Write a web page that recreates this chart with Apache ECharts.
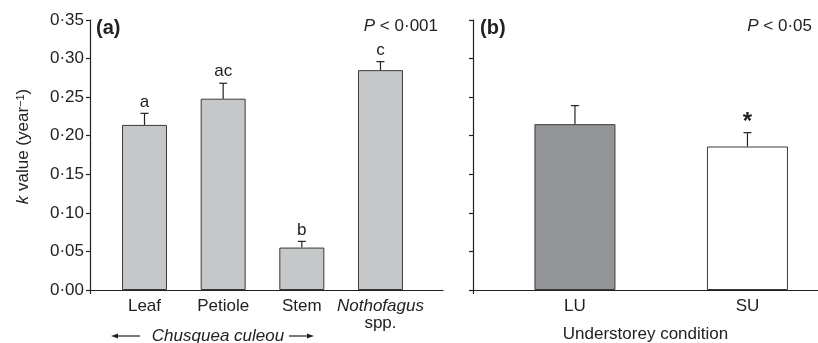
<!DOCTYPE html>
<html><head><meta charset="utf-8">
<script src="https://cdn.jsdelivr.net/npm/echarts@6/dist/echarts.min.js"></script>
<style>html,body{margin:0;padding:0;background:#fff}#c{width:818px;height:343px}</style>
</head><body><div id="c"></div>
<script>
// ---- data ----
const partCategories = ['Leaf', 'Petiole', 'Stem', 'Nothofagus spp.'];
const partK = [0.214, 0.248, 0.055, 0.285];
const partErr = [0.015, 0.020, 0.008, 0.011];
const partLetters = ['a', 'ac', 'b', 'c'];
const condCategories = ['LU', 'SU'];
const condK = [0.215, 0.186];
const condErr = [0.024, 0.018];
const condMarks = ['', '*'];
const yMin = 0, yMax = 0.35, yStep = 0.05;
const panelTags = ['(a)', '(b)'];
const pTexts = ['< 0·001', '< 0·05'];
const xTitleB = 'Understorey condition';
const groupTitleA = 'Chusquea culeou';

const FONT = '"Liberation Sans", Arial, Helvetica, sans-serif';
const INK = '#222';

const chart = echarts.init(document.getElementById('c'));

function catLabel(name) {
  const m = name.match(/^(\S+) spp\.$/);
  return m ? '{it|' + m[1] + '}\nspp.' : name;
}

function errItem(labels, capHalf, labelFont, gap) {
  return function (params, api) {
    const x = api.value(0), v = api.value(1), hi = api.value(2);
    const p0 = api.coord([x, v]), p1 = api.coord([x, hi]);
    const ch = [
      { type: 'line', shape: { x1: p0[0], y1: p0[1], x2: p1[0], y2: p1[1] }, style: { stroke: INK, lineWidth: 1.2 } },
      { type: 'line', shape: { x1: p1[0] - capHalf, y1: p1[1], x2: p1[0] + capHalf, y2: p1[1] }, style: { stroke: INK, lineWidth: 1.2 } }
    ];
    const t = labels[params.dataIndex];
    if (t) ch.push({ type: 'text', style: { text: t, x: p1[0], y: p1[1] - gap, textAlign: 'center', textVerticalAlign: 'bottom', font: labelFont, fill: INK } });
    return { type: 'group', children: ch };
  };
}

const yAxisCommon = {
  type: 'value', min: yMin, max: yMax, interval: yStep,
  axisLine: { show: true, onZero: false, lineStyle: { color: INK, width: 1.2 } },
  axisTick: { show: true, length: 4, lineStyle: { color: INK, width: 1.2 } },
  splitLine: { show: false }
};

const aMin = -0.693, aMax = 3.795;
const bMin = -0.591, bMax = 1.409;

const option = {
  animation: false,
  backgroundColor: '#fff',
  textStyle: { fontFamily: FONT },
  grid: [
    { left: 90, right: 375, top: 20, bottom: 53, containLabel: false, outerBoundsMode: 'none' },
    { left: 473, right: 0, top: 20, bottom: 53, containLabel: false, outerBoundsMode: 'none' }
  ],
  xAxis: [
    {
      type: 'value', gridIndex: 0, min: aMin, max: aMax,
      axisLine: { show: true, onZero: false, lineStyle: { color: INK, width: 1.2 } },
      axisTick: { show: true, customValues: [aMin], length: 4, lineStyle: { color: INK, width: 1.2 } },
      splitLine: { show: false },
      axisLabel: {
        customValues: partCategories.map((_, i) => i),
        formatter: v => catLabel(partCategories[Math.round(v)]),
        color: INK, fontSize: 17, margin: 8, lineHeight: 17, fontFamily: FONT,
        rich: { it: { fontStyle: 'italic', fontSize: 17, lineHeight: 17, color: INK, fontFamily: FONT } }
      }
    },
    {
      type: 'value', gridIndex: 1, min: bMin, max: bMax,
      axisLine: { show: true, onZero: false, lineStyle: { color: INK, width: 1.2 } },
      axisTick: { show: true, customValues: [bMin], length: 4, lineStyle: { color: INK, width: 1.2 } },
      splitLine: { show: false },
      axisLabel: {
        customValues: condCategories.map((_, i) => i),
        formatter: v => condCategories[Math.round(v)],
        color: INK, fontSize: 17, margin: 8, fontFamily: FONT
      },
      name: xTitleB, nameLocation: 'middle', nameGap: 36,
      nameTextStyle: { color: INK, fontSize: 17, fontFamily: FONT }
    }
  ],
  yAxis: [
    Object.assign({}, yAxisCommon, {
      gridIndex: 0,
      axisLabel: { formatter: v => v.toFixed(2).replace('.', '·'), color: INK, fontSize: 17, margin: 6, fontFamily: FONT },
      name: '{it|k} value (year{sup|−1})', nameLocation: 'middle', nameRotate: 90, nameGap: 58,
      nameTextStyle: {
        color: INK, fontSize: 17, fontFamily: FONT, padding: [0, 0, 0, 17],
        rich: { it: { fontStyle: 'italic', fontSize: 17, color: INK, fontFamily: FONT },
                sup: { fontSize: 11, verticalAlign: 'top', color: INK, fontFamily: FONT, padding: [0, 0, 6, 0] } }
      }
    }),
    Object.assign({}, yAxisCommon, { gridIndex: 1, axisLabel: { show: false } })
  ],
  series: [
    {
      type: 'bar', xAxisIndex: 0, yAxisIndex: 0, barWidth: 45,
      itemStyle: { color: '#c6c7c9', borderColor: '#3a3a3a', borderWidth: 1 },
      data: partK.map((v, i) => [i, v])
    },
    {
      type: 'custom', xAxisIndex: 0, yAxisIndex: 0,
      renderItem: errItem(partLetters, 4, '17px ' + FONT, 3),
      data: partK.map((v, i) => [i, v, v + partErr[i]]), z: 5
    },
    {
      type: 'bar', xAxisIndex: 1, yAxisIndex: 1, barWidth: 81,
      itemStyle: { borderColor: '#3a3a3a', borderWidth: 1 },
      data: condK.map((v, i) => ({ value: [i, v], itemStyle: { color: i === 0 ? '#939497' : '#ffffff' } }))
    },
    {
      type: 'custom', xAxisIndex: 1, yAxisIndex: 1,
      renderItem: errItem(condMarks, 4, 'bold 24px ' + FONT, -2),
      data: condK.map((v, i) => [i, v, v + condErr[i]]), z: 5
    }
  ],
  graphic: [
    { type: 'text', left: 96, top: 18, style: { text: panelTags[0], font: 'bold 20px ' + FONT, fill: INK } },
    { type: 'text', left: 480, top: 18, style: { text: panelTags[1], font: 'bold 20px ' + FONT, fill: INK } },
    { type: 'text', right: 818 - 438, top: 18, style: { text: '{i|P} ' + pTexts[0], font: '17px ' + FONT, fill: INK, rich: { i: { fontStyle: 'italic', fontSize: 17, fontFamily: FONT } } } },
    { type: 'text', right: 6, top: 18, style: { text: '{i|P} ' + pTexts[1], font: '17px ' + FONT, fill: INK, rich: { i: { fontStyle: 'italic', fontSize: 17, fontFamily: FONT } } } },
    { type: 'text', x: 218, y: 336, style: { text: groupTitleA, font: 'italic 17px ' + FONT, fill: INK, textAlign: 'center', textVerticalAlign: 'middle' } },
    { type: 'line', shape: { x1: 114, y1: 336, x2: 140, y2: 336 }, style: { stroke: INK, lineWidth: 1.2 } },
    { type: 'polygon', shape: { points: [[111, 336], [118, 333.5], [118, 338.5]] }, style: { fill: INK } },
    { type: 'line', shape: { x1: 289, y1: 336, x2: 310, y2: 336 }, style: { stroke: INK, lineWidth: 1.2 } },
    { type: 'polygon', shape: { points: [[314, 336], [307, 333.5], [307, 338.5]] }, style: { fill: INK } }
  ]
};
chart.setOption(option);
</script>
</body></html>
